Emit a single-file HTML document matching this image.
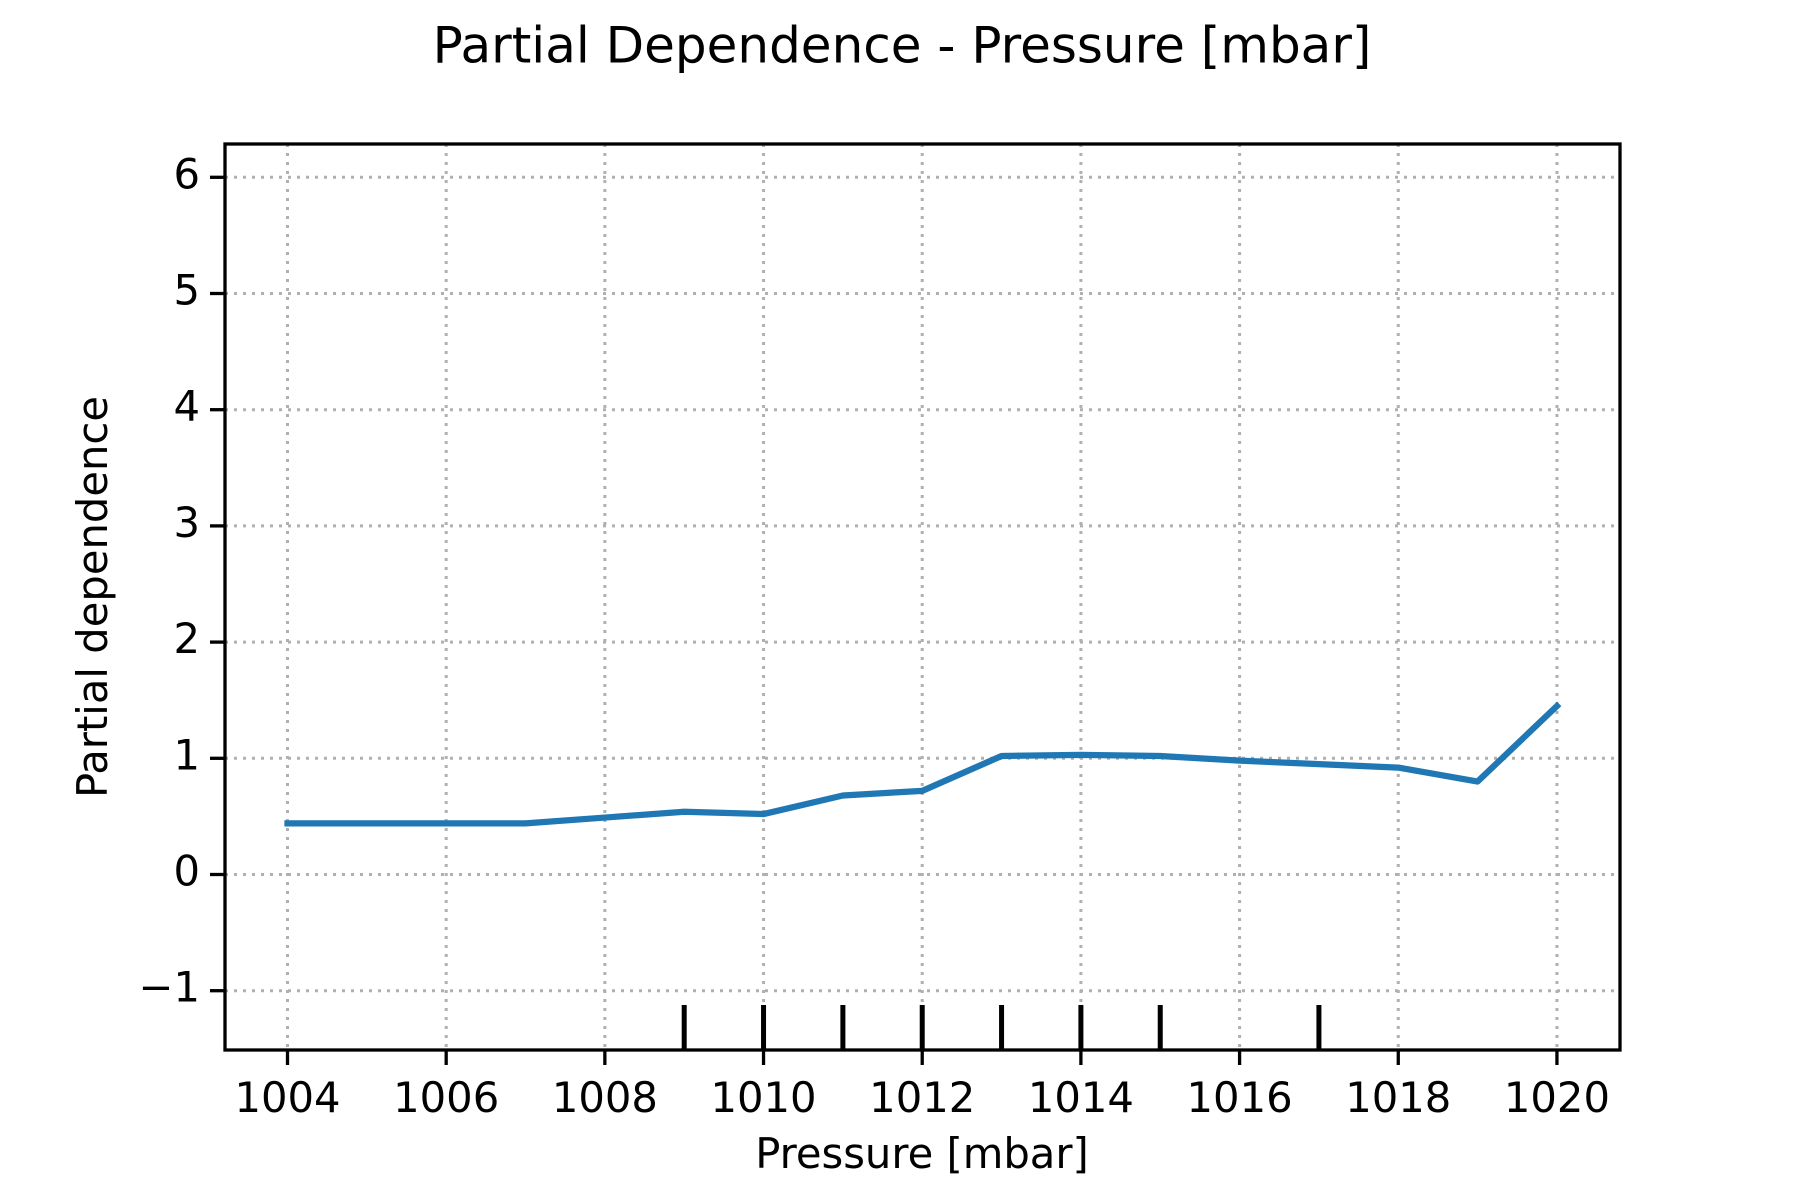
<!DOCTYPE html>
<html><head><meta charset="utf-8"><style>
html,body{margin:0;padding:0;background:#fff;width:1800px;height:1200px;overflow:hidden}
text{font-family:"DejaVu Sans","Liberation Sans",sans-serif;fill:#000}
</style></head><body>
<svg id="chart" width="1800" height="1200" xmlns="http://www.w3.org/2000/svg">
<rect width="1800" height="1200" fill="#fff"/>
<text x="902" y="49" font-size="50" text-anchor="middle" dominant-baseline="middle">Partial Dependence - Pressure [mbar]</text>
<g id="grid"></g>
<g id="rug"></g>
<path id="line" fill="none" stroke="#1f77b4" stroke-width="6.25" stroke-linejoin="round" stroke-linecap="square"/>
<rect x="225" y="144" width="1395" height="906" fill="none" stroke="#000" stroke-width="3.3"/>
<g id="ticks"></g>
<text x="922" y="1157" font-size="41.7" text-anchor="middle" dominant-baseline="middle">Pressure [mbar]</text>
<text x="96" y="597" font-size="41.7" text-anchor="middle" dominant-baseline="middle" transform="rotate(-90 96 597)">Partial dependence</text>
</svg>
<script>
const xValues=[1004,1005,1006,1007,1008,1009,1010,1011,1012,1013,1014,1015,1016,1017,1018,1019,1020];
const pdValues=[0.44,0.44,0.44,0.44,0.49,0.54,0.52,0.68,0.72,1.02,1.03,1.02,0.98,0.95,0.92,0.80,1.45];
const xTicks=[1004,1006,1008,1010,1012,1014,1016,1018,1020];
const yTicks=[-1,0,1,2,3,4,5,6];
const yTickLabels=["\u22121","0","1","2","3","4","5","6"];
const rugValues=[1009,1010,1011,1012,1013,1014,1015,1017];
const L=225,R=1620,T=144,B=1050;
const xs=v=>287.5+(v-1004)*79.34;
const ys=v=>874.5-v*116.2;
const NS="http://www.w3.org/2000/svg";
function mk(tag,attrs,parent){const e=document.createElementNS(NS,tag);for(const k in attrs)e.setAttribute(k,attrs[k]);parent.appendChild(e);return e;}
const grid=document.getElementById('grid'),ticks=document.getElementById('ticks'),rug=document.getElementById('rug');
xTicks.forEach(v=>{
 const x=xs(v);
 const g=mk('line',{x1:x,x2:x,y1:T,y2:B,stroke:'#b0b0b0','stroke-width':3,'stroke-dasharray':'3,6'},grid);
 
 
 const t=mk('line',{x1:x,x2:x,y1:B,y2:B+15,stroke:'#000','stroke-width':3.3},ticks);
 
 
 const l=mk('text',{x:x,y:1101,'font-size':41.7,'text-anchor':'middle','dominant-baseline':'middle'},ticks);
 l.textContent=v;
 
 
});
yTicks.forEach((v,i)=>{
 const y=ys(v);
 const g=mk('line',{x1:L,x2:R,y1:y,y2:y,stroke:'#b0b0b0','stroke-width':3,'stroke-dasharray':'3,6'},grid);
 
 
 const t=mk('line',{x1:L-15,x2:L,y1:y,y2:y,stroke:'#000','stroke-width':3.3},ticks);
 
 
 const l=mk('text',{x:L-25,y:y,'font-size':41.7,'text-anchor':'end','dominant-baseline':'middle'},ticks);
 l.textContent=yTickLabels[i];
 
 
});
rugValues.forEach(v=>{
 const r=mk('line',{x1:xs(v),x2:xs(v),y1:B-45,y2:B,stroke:'#000','stroke-width':5},rug);
 
 
});
document.getElementById('line').setAttribute('d',xValues.map((v,i)=>(i?'L':'M')+xs(v)+','+ys(pdValues[i])).join(' '));
</script>
</body></html>
